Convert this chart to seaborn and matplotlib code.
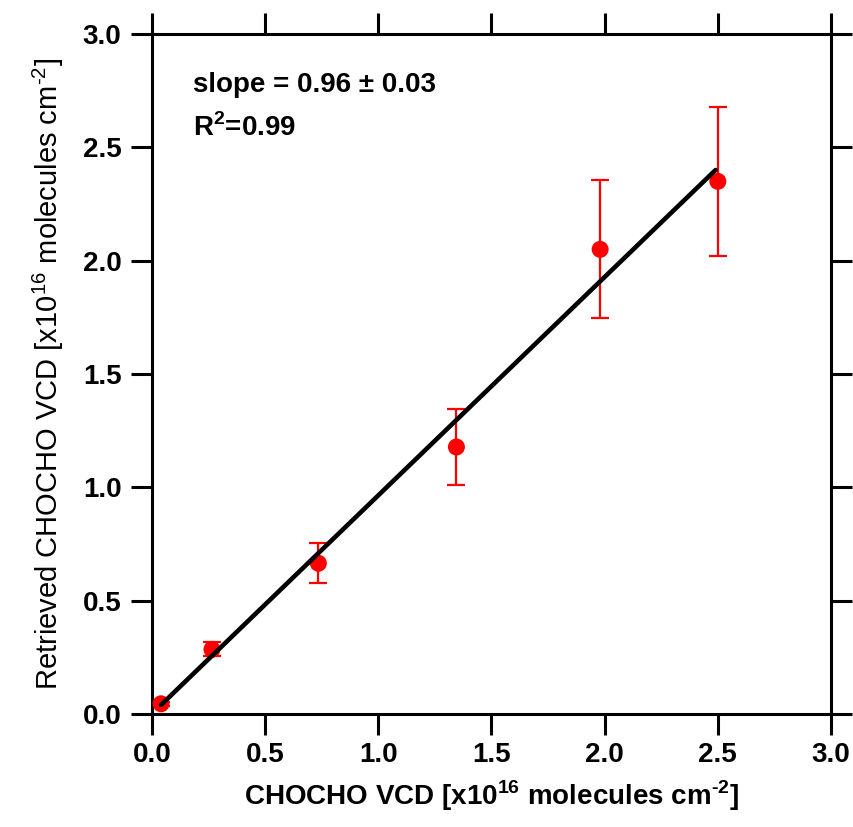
import numpy as np
import matplotlib
matplotlib.use("Agg")
import matplotlib.pyplot as plt
import seaborn as sns
import pandas as pd

# data
true_vcd = [0.04, 0.265, 0.735, 1.345, 1.98, 2.50]
retrieved_vcd = [0.045, 0.285, 0.665, 1.178, 2.05, 2.35]
err_low = [0.01, 0.03, 0.087, 0.168, 0.305, 0.33]
err_high = [0.01, 0.033, 0.09, 0.167, 0.305, 0.33]
fit_x = [0.04, 2.49]
fit_y = [0.04, 2.40]
ticks = [0.0, 0.5, 1.0, 1.5, 2.0, 2.5, 3.0]
tick_labels = ["0.0", "0.5", "1.0", "1.5", "2.0", "2.5", "3.0"]

sns.set_style("ticks")
plt.rcParams["font.family"] = ["Liberation Sans", "DejaVu Sans"]
for k in ["text.color", "axes.labelcolor", "xtick.color", "ytick.color", "axes.edgecolor"]:
    plt.rcParams[k] = "black"

fig = plt.figure(figsize=(8.54, 8.27), dpi=100)
ax = fig.add_axes([152/854, 1 - 714/827, (831-152)/854, (714-34)/827])

df = pd.DataFrame({"x": true_vcd, "y": retrieved_vcd})
ax.errorbar(true_vcd, retrieved_vcd, yerr=[err_low, err_high], fmt="none",
            ecolor="#ff0000", elinewidth=1.6, capsize=6.5, capthick=1.6, zorder=2)
sns.scatterplot(data=df, x="x", y="y", ax=ax, color="#ff0000", s=150,
                edgecolor="none", zorder=3)
sns.lineplot(x=fit_x, y=fit_y, ax=ax, color="black", linewidth=3.3, zorder=4)

ax.set_xlim(0, 3)
ax.set_ylim(0, 3)
ax.set_xticks(ticks)
ax.set_yticks(ticks)
ax.set_xticklabels(tick_labels, fontweight="bold", fontsize=20)
ax.set_yticklabels(tick_labels, fontweight="bold", fontsize=20)
ax.tick_params(direction="out", length=15, width=2.2, top=True, right=True,
               labeltop=False, labelright=False, color="black", labelcolor="black")
ax.tick_params(axis="y", pad=7)
ax.tick_params(axis="x", pad=5)
for s in ax.spines.values():
    s.set_visible(True)
    s.set_linewidth(2.2)
    s.set_color("black")

ax.set_xlabel("CHOCHO VCD [x10$^{\\mathregular{16}}$ molecules cm$^{\\mathregular{\u20102}}$]",
              fontsize=20, fontweight="bold", labelpad=8, color="black")
ax.set_ylabel("Retrieved CHOCHO VCD [x10$^{\\mathregular{16}}$ molecules cm$^{\\mathregular{\u20102}}$]",
              fontsize=21, labelpad=12, color="black")

ax.text(0.061, 0.925, "slope = 0.96 ± 0.03", transform=ax.transAxes,
        fontsize=20, fontweight="bold", va="center", ha="left")
ax.text(0.061, 0.862, r"R$^{\mathregular{2}}$=0.99", transform=ax.transAxes,
        fontsize=20, fontweight="bold", va="center", ha="left")

fig.savefig("out.png", dpi=100)
